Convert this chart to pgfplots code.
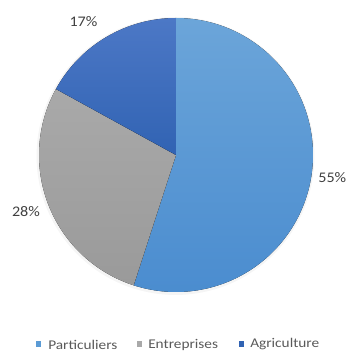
\documentclass[border=0pt]{standalone}
\usepackage{pgfplots}
\pgfplotsset{compat=1.18}
\usepackage{fontspec}
\setmainfont{Carlito}
\definecolor{partc}{HTML}{5B9BD5}
\definecolor{partd}{HTML}{4A8CCF}
\definecolor{entc}{HTML}{A9A9A9}
\definecolor{entd}{HTML}{9A9A9A}
\definecolor{agrc}{HTML}{4C78C6}
\definecolor{agrd}{HTML}{3163B3}
\definecolor{lblc}{HTML}{404040}
\definecolor{legc}{HTML}{595959}
\begin{document}
\begin{tikzpicture}
\begin{axis}[
  scale only axis, width=260.25pt, height=263.25pt,
  xmin=0, xmax=347, ymin=0, ymax=351,
  hide axis, clip=false]
% data: Particuliers 55, Entreprises 28, Agriculture 17 (percent), clockwise from top
\coordinate (bl) at (axis cs:0,0);
\coordinate (tr) at (axis cs:347,351);
\fill[gray!8] (axis cs:175.5,195) circle[radius=104.2pt];
\fill[top color=partc!90!white, bottom color=partd] (axis cs:176,196) -- ++(90:102.75pt)
   arc[start angle=90, end angle={90-55*3.6}, radius=102.75pt] -- cycle;
\fill[top color=entc, bottom color=entd] (axis cs:176,196) -- ++({90-55*3.6}:102.75pt)
   arc[start angle={90-55*3.6}, end angle={90-83*3.6}, radius=102.75pt] -- cycle;
\fill[top color=agrc, bottom color=agrd] (axis cs:176,196) -- ++({90-83*3.6}:102.75pt)
   arc[start angle={90-83*3.6}, end angle={-270}, radius=102.75pt] -- cycle;
\node[anchor=east, inner sep=0pt, text=lblc, font=\fontsize{11}{13}\selectfont] at (axis cs:346.5,173) {\scalebox{1.1}[1]{55\%}};
\node[inner sep=0pt, text=lblc, font=\fontsize{11}{13}\selectfont] at (axis cs:26,139) {\scalebox{1.1}[1]{28\%}};
\node[inner sep=0pt, text=lblc, font=\fontsize{11}{13}\selectfont] at (axis cs:83.5,329) {\scalebox{1.1}[1]{17\%}};
% legend
\fill[partc] (axis cs:36,4) rectangle (axis cs:41.5,9.5);
\node[anchor=west, inner sep=0pt, text=legc, font=\fontsize{10}{12}\selectfont] at (axis cs:48,6.5) {\scalebox{1.15}[1]{Particuliers}};
\fill[entc] (axis cs:137,4) rectangle (axis cs:142.5,9.5);
\node[anchor=west, inner sep=0pt, text=legc, font=\fontsize{10}{12}\selectfont] at (axis cs:148,6.5) {\scalebox{1.15}[1]{Entreprises}};
\fill[agrd] (axis cs:239,4) rectangle (axis cs:244.5,9.5);
\node[anchor=west, inner sep=0pt, text=legc, font=\fontsize{10}{12}\selectfont] at (axis cs:250,6.5) {\scalebox{1.15}[1]{Agriculture}};
\end{axis}
\pgfresetboundingbox
\useasboundingbox (bl) rectangle (tr);
\end{tikzpicture}
\end{document}
